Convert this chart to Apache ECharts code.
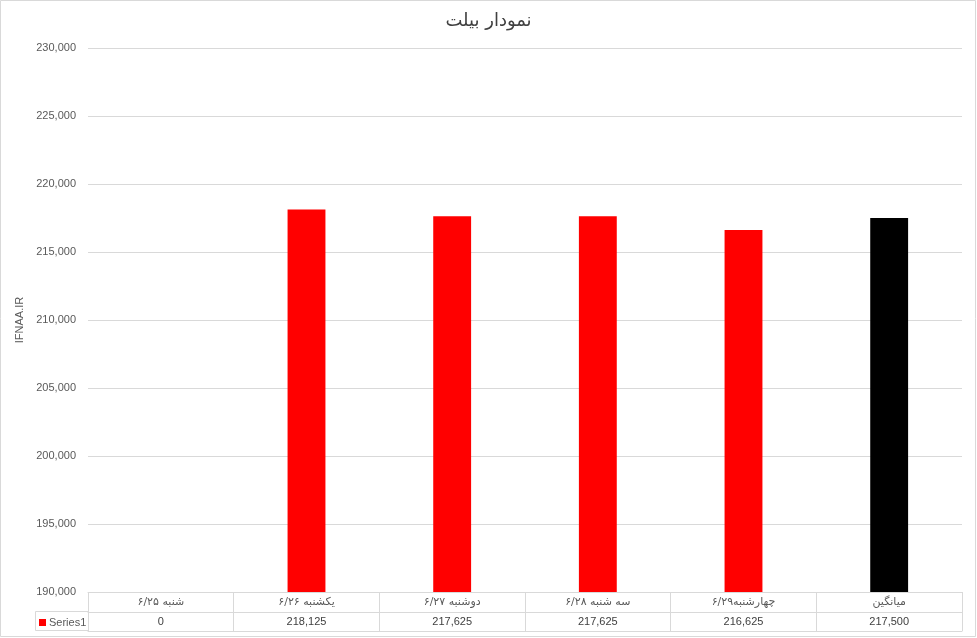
<!DOCTYPE html>
<html>
<head>
<meta charset="utf-8">
<script src="https://cdn.jsdelivr.net/npm/echarts@6/dist/echarts.min.js"></script>
<style>
html,body{margin:0;padding:0;background:#fff;}
#chart{width:977px;height:638px;}
</style>
</head>
<body>
<div id="chart"></div>
<script>
const titleText = 'نمودار بیلت';
const yAxisName = 'IFNAA.IR';
const seriesName = 'Series1';
const categories = ['شنبه ۶/۲۵', 'یکشنبه ۶/۲۶', 'دوشنبه ۶/۲۷', 'سه شنبه ۶/۲۸', 'چهارشنبه۶/۲۹', 'میانگین'];
const values = [0, 218125, 217625, 217625, 216625, 217500];
const barColors = ['#ff0000', '#ff0000', '#ff0000', '#ff0000', '#ff0000', '#000000'];
const yMin = 190000, yMax = 230000, yStep = 5000;

const valueLabels = values.map(v => v.toLocaleString('en-US'));
const fmt = v => Number(v).toLocaleString('en-US');
const gridColor = '#d9d9d9';
const latin = 'Liberation Sans, DejaVu Sans, sans-serif';

const chart = echarts.init(document.getElementById('chart'), null, {renderer: 'canvas'});
chart.setOption({
  animation: false,
  backgroundColor: '#ffffff',
  title: {
    text: titleText, left: 'center', top: 7,
    textStyle: {fontSize: 18, fontWeight: 'normal', color: '#404040', fontFamily: 'DejaVu Sans, sans-serif'}
  },
  legend: {
    left: 39, top: 617, padding: 0, icon: 'rect', itemWidth: 7, itemHeight: 7, itemGap: 4,
    textStyle: {fontSize: 11, color: '#595959', fontFamily: latin, padding: [0, 0, 0, -2]},
    data: [seriesName]
  },
  grid: {left: 88, right: 15, top: 48, bottom: 46, containLabel: false},
  xAxis: [
    {
      type: 'category', data: categories, position: 'bottom',
      axisLine: {show: true, lineStyle: {color: gridColor}},
      axisTick: {show: true, length: 39, interval: 0, lineStyle: {color: gridColor}},
      axisLabel: {interval: 0, margin: 5, fontSize: 11, color: '#595959', fontFamily: 'DejaVu Sans, sans-serif'}
    },
    {
      type: 'category', data: valueLabels, position: 'bottom', offset: 20,
      axisLine: {show: true, lineStyle: {color: gridColor}},
      axisTick: {show: false},
      axisLabel: {interval: 0, margin: 4, fontSize: 11, color: '#404040', fontFamily: latin}
    },
    {
      type: 'category', data: categories, position: 'bottom', offset: 39,
      axisLine: {show: true, lineStyle: {color: gridColor}},
      axisTick: {show: false},
      axisLabel: {show: false}
    }
  ],
  yAxis: {
    type: 'value', min: yMin, max: yMax, interval: yStep,
    name: yAxisName, nameLocation: 'middle', nameRotate: 90, nameGap: 60,
    nameTextStyle: {fontSize: 11, color: '#595959', fontFamily: latin},
    axisLine: {show: false}, axisTick: {show: false},
    splitLine: {lineStyle: {color: gridColor}},
    axisLabel: {margin: 12, fontSize: 11, color: '#595959', fontFamily: latin, formatter: fmt}
  },
  series: [{
    name: seriesName, type: 'bar', xAxisIndex: 0, barWidth: '26%', clip: true,
    itemStyle: {color: barColors[0]},
    data: values.map((v, i) => ({value: v, itemStyle: {color: barColors[i]}}))
  }],
  graphic: [
    {
      type: 'rect', silent: true,
      shape: {x: 0.5, y: 0.5, width: 975, height: 636},
      style: {fill: 'none', stroke: gridColor, lineWidth: 1}
    },
    {
      type: 'polyline', silent: true,
      shape: {points: [[88, 611.5], [35.5, 611.5], [35.5, 630.5], [88, 630.5]]},
      style: {fill: 'none', stroke: gridColor, lineWidth: 1}
    }
  ]
});
</script>
</body>
</html>
